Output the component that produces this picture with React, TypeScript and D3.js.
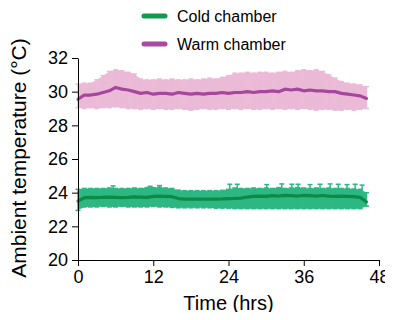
import React, { useEffect, useRef } from 'react';
import * as d3 from 'd3';

// hourly samples, 0..46 h
const hours = d3.range(0, 47);

const warmMean = [
  29.55, 29.8, 29.8, 29.85, 29.95, 30.05, 30.25, 30.15, 30.1, 30.0,
  29.9, 29.95, 29.85, 29.9, 29.9, 29.85, 29.95, 29.9, 29.85, 29.9,
  29.85, 29.9, 29.9, 29.95, 29.9, 29.95, 29.95, 30.0, 29.95, 30.0,
  30.0, 30.05, 30.0, 30.15, 30.1, 30.15, 30.05, 30.1, 30.05, 30.05,
  30.0, 30.0, 29.9, 29.85, 29.8, 29.75, 29.6,
];
const warmHigh = [
  30.45, 30.5, 30.5, 30.7, 30.95, 31.2, 31.3, 31.25, 31.15, 31.05,
  30.75, 30.7, 30.7, 30.75, 30.7, 30.75, 30.7, 30.7, 30.75, 30.7,
  30.75, 30.8, 30.75, 30.85, 30.95, 31.1, 31.1, 31.15, 31.1, 31.15,
  31.15, 31.1, 31.15, 31.2, 31.15, 31.25, 31.3, 31.25, 31.3, 31.2,
  31.0, 30.8, 30.6, 30.5, 30.45, 30.4, 30.3,
];
const warmLow = [
  29.05, 29.0, 29.05, 29.0, 29.05, 29.05, 29.1, 29.05, 29.0, 29.0,
  28.95, 29.0, 28.95, 29.0, 28.95, 28.95, 29.0, 28.95, 28.9, 28.95,
  29.0, 28.95, 28.95, 29.0, 28.95, 29.0, 28.95, 29.0, 28.95, 28.95,
  29.0, 28.95, 29.0, 28.95, 29.0, 28.95, 29.0, 28.95, 28.9, 28.95,
  28.95, 28.9, 28.9, 28.95, 28.9, 28.95, 29.0,
];

const coldMean = [
  23.5, 23.7, 23.72, 23.7, 23.72, 23.74, 23.72, 23.7, 23.72, 23.75,
  23.74, 23.72, 23.78, 23.8, 23.78, 23.76, 23.65, 23.62, 23.62, 23.62,
  23.62, 23.62, 23.62, 23.63, 23.65, 23.66, 23.68, 23.74, 23.78, 23.8,
  23.78, 23.82, 23.8, 23.84, 23.82, 23.8, 23.84, 23.82, 23.8, 23.83,
  23.8, 23.78, 23.8, 23.78, 23.76, 23.72, 23.45,
];
const coldHigh = [
  24.2, 24.25, 24.25, 24.25, 24.25, 24.28, 24.25, 24.25, 24.25, 24.28,
  24.25, 24.3, 24.3, 24.32, 24.28, 24.25, 24.15, 24.12, 24.12, 24.12,
  24.12, 24.12, 24.12, 24.14, 24.2, 24.28, 24.25, 24.25, 24.28, 24.25,
  24.28, 24.25, 24.3, 24.25, 24.28, 24.3, 24.28, 24.25, 24.28, 24.25,
  24.28, 24.25, 24.25, 24.25, 24.22, 24.2, 24.0,
];
const coldLow = [
  22.95, 23.15, 23.15, 23.15, 23.18, 23.15, 23.15, 23.18, 23.15, 23.15,
  23.15, 23.15, 23.18, 23.15, 23.15, 23.12, 23.1, 23.1, 23.1, 23.1,
  23.1, 23.1, 23.08, 23.08, 23.08, 23.05, 23.05, 23.05, 23.05, 23.05,
  23.05, 23.05, 23.05, 23.05, 23.05, 23.05, 23.05, 23.05, 23.05, 23.05,
  23.05, 23.05, 23.05, 23.05, 23.05, 23.05, 23.2,
];
// single readings that poke above the cold band (error-bar caps)
const coldSpikeHrs = [5.6, 11.5, 13, 24.2, 25.4, 30.1, 32.5, 34.1, 35.1, 37, 38.6, 40.2, 41.5, 42.9, 44.2, 45.3];
const coldSpikeVals = [24.4, 24.38, 24.42, 24.5, 24.5, 24.48, 24.52, 24.5, 24.5, 24.48, 24.5, 24.52, 24.5, 24.48, 24.5, 24.45];

const xTicks = [0, 12, 24, 36, 48];
const yTicks = [20, 22, 24, 26, 28, 30, 32];

const seriesNames = ['Cold chamber', 'Warm chamber'];

const FONT = '"Liberation Sans", Arial, Helvetica, sans-serif';

const App = () => {
  const svgRef = useRef<SVGSVGElement | null>(null);

  useEffect(() => {
    const svg = d3.select(svgRef.current);
    svg.selectAll('*').remove();

    const width = 393;
    const height = 320;
    const margin = { top: 58, right: 14, bottom: 60, left: 78 };

    const x = d3.scaleLinear().domain([0, 48]).range([margin.left, width - margin.right]);
    const y = d3.scaleLinear().domain([20, 32]).range([height - margin.bottom, margin.top]);

    const g = svg.append('g');

    const series = [
      { mean: warmMean, hi: warmHigh, lo: warmLow, band: '#ebbad7', line: '#a5479c' },
      { mean: coldMean, hi: coldHigh, lo: coldLow, band: '#2db783', line: '#0d8a45' },
    ];

    series.forEach(s => {
      const area = d3.area<number>()
        .x(d => x(hours[d]))
        .y0(d => y(s.lo[d]))
        .y1(d => y(s.hi[d]));

      g.append('path')
        .attr('d', area(d3.range(hours.length)))
        .attr('fill', s.band);

      // error bars
      hours.forEach((h, i) => {
        g.append('line')
          .attr('x1', x(h)).attr('x2', x(h))
          .attr('y1', y(s.lo[i])).attr('y2', y(s.hi[i]))
          .attr('stroke', s.band).attr('stroke-width', 1.5);
        [s.lo[i], s.hi[i]].forEach(v => {
          g.append('line')
            .attr('x1', x(h) - 2.5).attr('x2', x(h) + 2.5)
            .attr('y1', y(v)).attr('y2', y(v))
            .attr('stroke', s.band).attr('stroke-width', 1.5);
        });
      });

      if (s.mean === coldMean) {
        coldSpikeHrs.forEach((h, i) => {
          const v = coldSpikeVals[i];
          g.append('line')
            .attr('x1', x(h)).attr('x2', x(h))
            .attr('y1', y(24.1)).attr('y2', y(v))
            .attr('stroke', s.band).attr('stroke-width', 1.5);
          g.append('line')
            .attr('x1', x(h) - 2.5).attr('x2', x(h) + 2.5)
            .attr('y1', y(v)).attr('y2', y(v))
            .attr('stroke', s.band).attr('stroke-width', 1.5);
        });
      }

      const line = d3.line<number>()
        .x((d, i) => x(hours[i]))
        .y(d => y(d));

      g.append('path')
        .attr('d', line(s.mean))
        .attr('fill', 'none')
        .attr('stroke', s.line)
        .attr('stroke-width', 3.2)
        .attr('stroke-linejoin', 'round')
        .attr('stroke-linecap', 'round');
    });

    // axes
    const xAxis = svg.append('g')
      .attr('transform', `translate(0,${height - margin.bottom})`)
      .call(d3.axisBottom(x).tickValues(xTicks).tickSize(6).tickSizeOuter(0).tickPadding(4));
    const yAxis = svg.append('g')
      .attr('transform', `translate(${margin.left},0)`)
      .call(d3.axisLeft(y).tickValues(yTicks).tickSize(6).tickSizeOuter(0).tickPadding(4));

    [xAxis, yAxis].forEach(a => {
      a.selectAll('path, line').attr('stroke', '#000').attr('stroke-width', 1);
      a.selectAll('text')
        .attr('fill', '#000')
        .style('font-family', FONT)
        .style('font-size', '18px');
    });

    svg.append('text')
      .attr('x', (margin.left + width - margin.right) / 2)
      .attr('y', 310)
      .attr('text-anchor', 'middle')
      .style('font-family', FONT)
      .style('font-size', '20px')
      .text('Time (hrs)');

    svg.append('text')
      .attr('transform', `translate(26,${(margin.top + height - margin.bottom) / 2 - 1}) rotate(-90)`)
      .attr('text-anchor', 'middle')
      .style('font-family', FONT)
      .style('font-size', '21px')
      .text('Ambient temperature (°C)');

    // legend
    const legendColors = ['#0f9a50', '#a84aa0'];
    seriesNames.forEach((name, i) => {
      const ly = 16 + i * 28;
      svg.append('line')
        .attr('x1', 144).attr('x2', 165)
        .attr('y1', ly).attr('y2', ly)
        .attr('stroke', legendColors[i])
        .attr('stroke-width', 5)
        .attr('stroke-linecap', 'round');
      svg.append('text')
        .attr('x', 177)
        .attr('y', ly + 6)
        .style('font-family', FONT)
        .style('font-size', '16px')
        .text(name);
    });
  }, []);

  return <svg ref={svgRef} width={393} height={320} style={{ display: 'block', margin: -8 }} />;
};

export default App;
